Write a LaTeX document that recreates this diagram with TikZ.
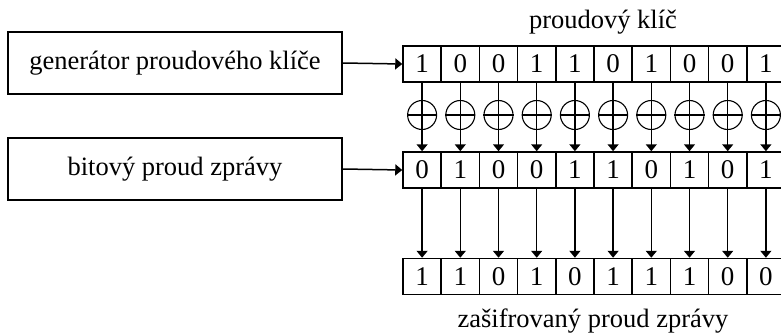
\documentclass[tikz,border=0pt]{standalone}
\usepackage{fontspec}
\setmainfont{Liberation Serif}
\usetikzlibrary{arrows.meta}
\begin{document}
\begin{tikzpicture}[x=1pt,y=-1pt,
  lw/.style={line width=1.5pt},
  bigbox/.style={draw,lw,minimum width=334pt,minimum height=62pt,inner sep=0pt,font=\fontsize{26.5}{30}\selectfont},
  cell/.style={draw,lw,minimum width=38.2pt,minimum height=36pt,inner sep=0pt,font=\fontsize{27}{30}\selectfont},
  xorc/.style={draw,line width=1.1pt,circle,minimum size=29pt,inner sep=0pt},
  lbl/.style={font=\fontsize{26.5}{30}\selectfont},
  arr/.style={lw,-{Triangle[width=11pt,length=7pt]}}]
\useasboundingbox (0,0) rectangle (781,334);
\node[bigbox] (g) at (175,63) {generátor proudového klíče};
\node[bigbox] (b) at (175,169) {bitový proud zprávy};
\node[lbl] (t1) at (603,22) {proudový klíč};
\node[lbl] (t2) at (593,321) {zašifrovaný proud zprávy};
\foreach \i/\a/\b/\c in {0/1/0/1,1/0/1/1,2/0/0/0,3/1/0/1,4/1/1/0,5/0/1/1,6/1/0/1,7/0/1/1,8/0/0/0,9/1/1/0}{
  \node[cell] (k\i) at ({422.1+38.2*\i},64) {\a};
  \node[cell] (m\i) at ({422.1+38.2*\i},170) {\b};
  \node[cell] (c\i) at ({422.1+38.2*\i},276.5) {\c};
  \node[xorc] (x\i) at ({422.1+38.2*\i},115) {};
  \draw[line width=1.1pt] (x\i.west) -- (x\i.east);
  \draw[arr] (k\i.south) -- (m\i.north);
  \draw[arr] (m\i.south) -- (c\i.north);
}
\draw[arr] (g.east) -- (k0.west);
\draw[arr] (b.east) -- (m0.west);
\end{tikzpicture}
\end{document}
